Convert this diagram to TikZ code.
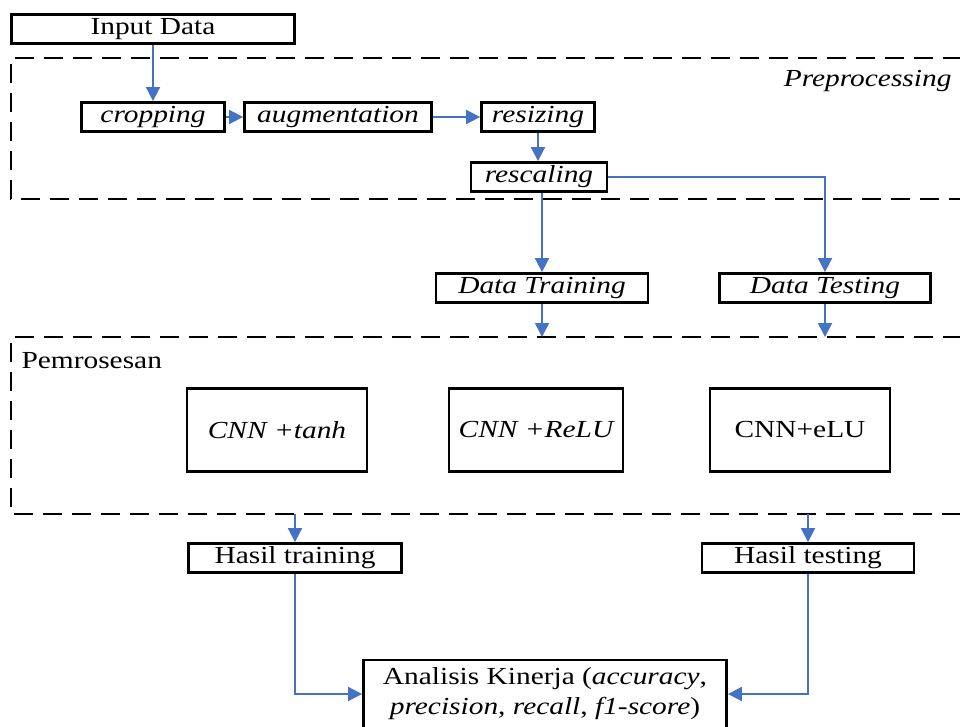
\documentclass[tikz,border=0pt]{standalone}
\usepackage{fontspec}
\setmainfont{Liberation Serif}[FakeStretch=1.2]
\usetikzlibrary{arrows.meta,positioning}
\definecolor{flowblue}{RGB}{68,114,196}
\begin{document}
\begin{tikzpicture}[x=1pt,y=-1pt, font=\fontsize{24.5}{27}\selectfont,
		box/.style={draw, line width=2.8pt, inner sep=0pt, minimum height=29pt},
		flow/.style={draw=flowblue, line width=1.8pt, -{Triangle[length=14pt,width=14pt]}},
		frame/.style={dashed, line width=1.8pt, dash pattern=on 19pt off 10pt}]
		\useasboundingbox (0,0) rectangle (960,727);
		% dashed frames (right side runs off the page)
		\draw[frame] (962,58)--(11,58)--(11,199)--(962,199);
		\draw[frame] (962,337)--(11,337)--(11,514)--(962,514);
		\node (prep) [anchor=east] at (955,81) {\itshape Preprocessing};
		\node (pros) [anchor=west] at (18,361) {Pemrosesan};
		% boxes
		\node[box, minimum width=283pt] (input) at (153,29) {Input Data};
		\node[box, minimum width=143pt] (crop) at (153,117) {\itshape cropping};
		\node[box, minimum width=187pt] (aug) at (338,117) {\itshape augmentation};
		\node[box, minimum width=113pt] (resize) at (538,117) {\itshape resizing};
		\node[box, minimum width=136pt] (rescale) at (539,177) {\itshape rescaling};
		\node[box, minimum width=212pt] (train) at (542,288) {\itshape Data Training};
		\node[box, minimum width=211pt] (test) at (825,288) {\itshape Data Testing};
		\node[box, minimum width=180pt, minimum height=83pt] (tanh) at (277,430) {\itshape CNN +tanh};
		\node[box, minimum width=174pt, minimum height=83pt] (relu) at (536,430) {\itshape CNN +ReLU};
		\node[box, minimum width=180pt, minimum height=83pt] (elu) at (800,430) {CNN+eLU};
		\node[box, minimum width=213pt] (htrain) at (295,558) {Hasil training};
		\node[box, minimum width=212pt] (htest) at (808,558) {Hasil testing};
		\node[box, minimum width=363pt, minimum height=68pt, align=center, font=\fontsize{24.5}{30}\selectfont] (eval) at (545,694)
		{Analisis Kinerja (\textit{accuracy},\\ \textit{precision}, \textit{recall}, \textit{f1-score})};
		% connectors
		\coordinate (trin) at (train.south |- 0,337);
		\coordinate (tein) at (test.south |- 0,337);
		\coordinate (trout) at (htrain.north |- 0,514);
		\coordinate (teout) at (htest.north |- 0,514);
		\draw[flow] (input.south) -- (crop.north);
		\draw[flow] (crop.east) -- (aug.west);
		\draw[flow] (aug.east) -- (resize.west);
		\draw[flow] (resize.south) -- (rescale.north -| resize.south);
		\draw[flow] (rescale.south -| train.north) -- (train.north);
		\draw[flow] (rescale.east) -| (test.north);
		\draw[flow] (train.south) -- (trin);
		\draw[flow] (test.south) -- (tein);
		\draw[flow] (trout) -- (htrain.north);
		\draw[flow] (teout) -- (htest.north);
		\draw[flow] (htrain.south) |- (eval.west);
		\draw[flow] (htest.south) |- (eval.east);
\end{tikzpicture}
\end{document}
